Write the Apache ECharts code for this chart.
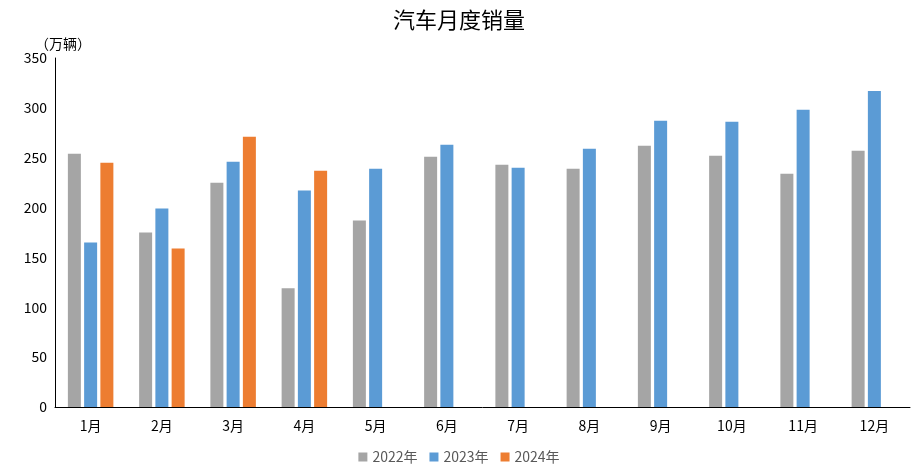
<!DOCTYPE html>
<html><head><meta charset="utf-8">
<script src="https://cdn.jsdelivr.net/npm/echarts@6/dist/echarts.min.js"></script>
<style>body{margin:0}#c{width:918px;height:471px}</style></head>
<body><div id="c"></div>
<script>
const categories=['1月','2月','3月','4月','5月','6月','7月','8月','9月','10月','11月','12月'];
const s2022=[254,175,225,119,187,251,243,239,262,252,234,257];
const s2023=[165,199,246,217,239,263,240,259,287,286,298,317];
const s2024=[245,159,271,237,null,null,null,null,null,null,null,null];
const font='"Noto Sans CJK SC", serif';
const chart=echarts.init(document.getElementById('c'));
const mk=(n,d,c)=>({name:n,type:'bar',data:d,barWidth:13,barGap:'25%',itemStyle:{color:c}});
chart.setOption({
 title:{text:'汽车月度销量',left:'center',top:4,textStyle:{fontFamily:font,fontSize:22,fontWeight:'normal',color:'#000'}},
 legend:{bottom:2,left:'center',itemWidth:9,itemHeight:9,itemGap:12,icon:'rect',textStyle:{fontFamily:font,fontSize:14,color:'#595959'}},
 grid:{left:55,right:8,top:58,bottom:64},
 xAxis:{type:'category',data:categories,axisTick:{show:false},axisLine:{lineStyle:{color:'#000'}},axisLabel:{fontFamily:font,fontSize:14,color:'#000',margin:12}},
 yAxis:{type:'value',min:0,max:350,interval:50,name:'（万辆）',nameGap:6,nameTextStyle:{fontFamily:font,fontSize:14,color:'#000',align:'left',padding:[0,0,0,-20]},
   axisLine:{show:true,lineStyle:{color:'#000'}},splitLine:{show:false},axisLabel:{fontFamily:font,fontSize:14,color:'#000'}},
 series:[mk('2022年',s2022,'#A5A5A5'),mk('2023年',s2023,'#5B9BD5'),mk('2024年',s2024,'#ED7D31')]
});
</script></body></html>
